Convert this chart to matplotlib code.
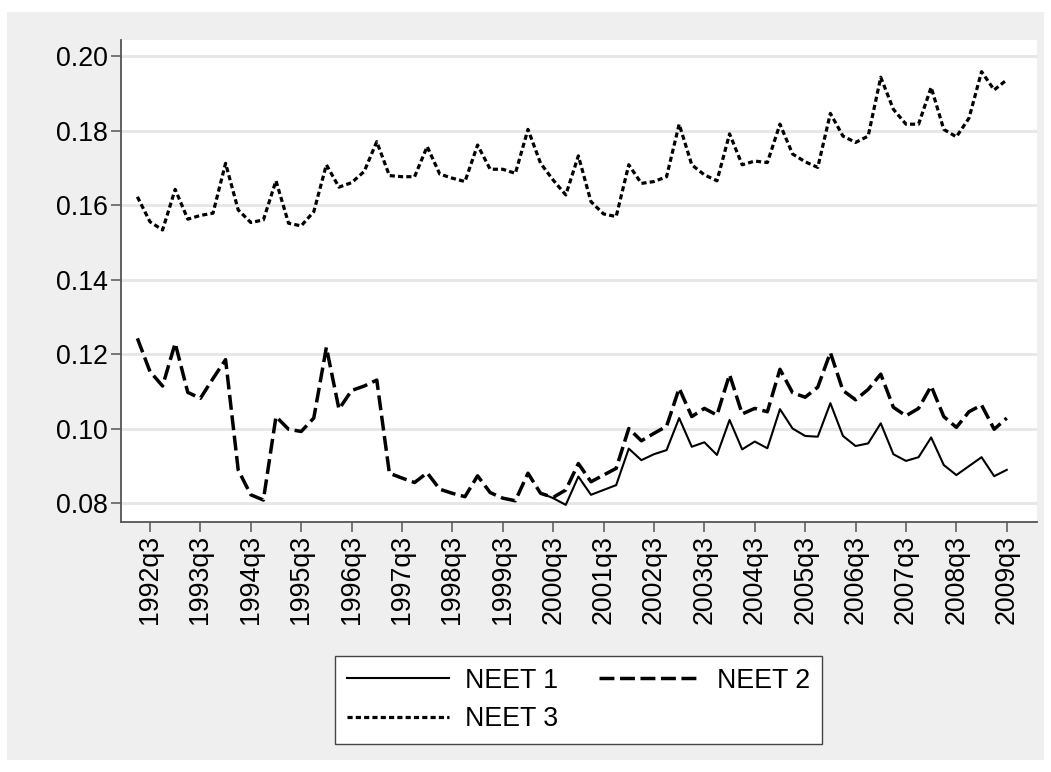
import matplotlib
matplotlib.use('Agg')
import matplotlib.pyplot as plt
import numpy as np

plt.rcParams['font.family'] = ['Liberation Sans', 'DejaVu Sans']

# quarters 1992q2 .. 2009q3
quarters = ['%dq%d' % (1992 + (q + 1) // 4, (q + 1) % 4 + 1) for q in range(70)]

neet1 = [np.nan] * 32 + [
    0.0827, 0.0813, 0.0795, 0.0871, 0.0822, 0.0835, 0.0848, 0.0946,
    0.0915, 0.0931, 0.0942, 0.1028, 0.0951, 0.0963, 0.0929, 0.1023,
    0.0944, 0.0965, 0.0947, 0.1052, 0.1000, 0.0980, 0.0978, 0.1068,
    0.0980, 0.0953, 0.0960, 0.1014, 0.0931, 0.0913, 0.0923, 0.0976,
    0.0902, 0.0875, 0.0899, 0.0923, 0.0872, 0.0889]

neet2 = [
    0.1242, 0.1153, 0.1114, 0.1229, 0.1097, 0.1081, 0.1134, 0.1185,
    0.0889, 0.0822, 0.0808, 0.1032, 0.0998, 0.0992, 0.1028, 0.1218,
    0.1052, 0.1102, 0.1114, 0.1130, 0.0880, 0.0867, 0.0855, 0.0881,
    0.0837, 0.0826, 0.0817, 0.0873, 0.0828, 0.0813, 0.0806, 0.0880,
    0.0826, 0.0815, 0.0835, 0.0906, 0.0857, 0.0875, 0.0893, 0.1000,
    0.0967, 0.0987, 0.1006, 0.1108, 0.1032, 0.1054, 0.1036, 0.1145,
    0.1039, 0.1054, 0.1045, 0.1159, 0.1096, 0.1084, 0.1111, 0.1204,
    0.1102, 0.1077, 0.1105, 0.1146, 0.1057, 0.1034, 0.1054, 0.1114,
    0.1032, 0.1003, 0.1045, 0.1063, 0.0998, 0.1028]

neet3 = [
    0.1622, 0.1555, 0.1533, 0.1642, 0.1562, 0.1572, 0.1578, 0.1712,
    0.1587, 0.1553, 0.1560, 0.1665, 0.1551, 0.1544, 0.1582, 0.1708,
    0.1648, 0.1660, 0.1690, 0.1770, 0.1679, 0.1676, 0.1676, 0.1757,
    0.1683, 0.1672, 0.1663, 0.1761, 0.1696, 0.1696, 0.1685, 0.1803,
    0.1712, 0.1667, 0.1627, 0.1732, 0.1609, 0.1576, 0.1569, 0.1708,
    0.1658, 0.1663, 0.1676, 0.1817, 0.1708, 0.1681, 0.1665, 0.1791,
    0.1708, 0.1718, 0.1714, 0.1817, 0.1737, 0.1716, 0.1701, 0.1846,
    0.1785, 0.1768, 0.1785, 0.1943, 0.1857, 0.1817, 0.1817, 0.1916,
    0.1803, 0.1783, 0.1833, 0.1958, 0.1909, 0.1936]

yticks = [0.08, 0.10, 0.12, 0.14, 0.16, 0.18, 0.20]

W, H = 1051, 772
fig = plt.figure(figsize=(W / 100, H / 100), dpi=100)
fig.patch.set_facecolor('white')

# grey graph region behind the plot
bg = fig.add_axes([7 / W, 1 - 760 / H, (1044 - 7) / W, (760 - 12) / H], zorder=-1)
bg.set_facecolor('#efefef')
bg.set_xticks([])
bg.set_yticks([])
for s in bg.spines.values():
    s.set_visible(False)

ax = fig.add_axes([121 / W, 1 - 522 / H, (1037 - 121) / W, (522 - 40) / H])
ax.set_facecolor('white')

x = np.arange(len(quarters))
fs = 19.3
l1, = ax.plot(x, neet1, color='black', lw=1.5, label='NEET 1')
l2, = ax.plot(x, neet2, color='black', lw=2.5, dashes=(4.3, 1.6), label='NEET 2')
l3, = ax.plot(x, neet3, color='black', lw=2.3, dashes=(1.6, 1.0), label='NEET 3')

ax.set_xlim(-1.3, 71.4)
ax.set_ylim(0.0749, 0.2043)
ax.set_yticks(yticks)
ax.set_yticklabels(['%.2f' % v for v in yticks], fontsize=fs)
ax.set_xticks(x[1::4])
ax.set_xticklabels(quarters[1::4], rotation=90, fontsize=fs)
ax.grid(axis='y', color='#e6e6e6', lw=2)
ax.set_axisbelow(True)

for s in ['top', 'right']:
    ax.spines[s].set_visible(False)
for s in ['left', 'bottom']:
    ax.spines[s].set_color('#555555')
    ax.spines[s].set_linewidth(1.3)
ax.tick_params(direction='out', length=7.5, width=1.1, color='#555555', pad=2)

# row-wise order: NEET 1, NEET 2 / NEET 3
leg = fig.legend([l1, l3, l2], ['NEET 1', 'NEET 3', 'NEET 2'],
                 loc='center', bbox_to_anchor=(578.5 / W, 1 - 700 / H), ncol=2,
                 fontsize=fs, frameon=True, fancybox=False, framealpha=1,
                 edgecolor='#444444', handlelength=3.8, handletextpad=0.6,
                 columnspacing=1.5, borderpad=0.45, labelspacing=0.48)
leg.get_frame().set_linewidth(1.0)

fig.savefig('out.png', dpi=100)
